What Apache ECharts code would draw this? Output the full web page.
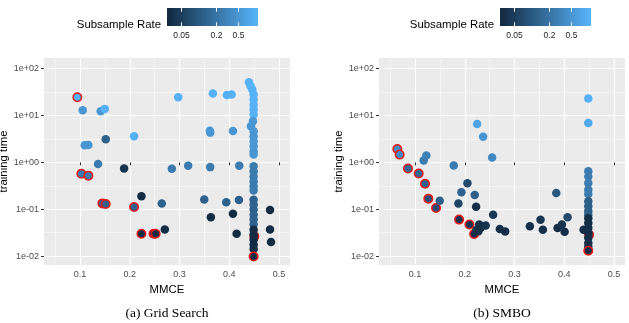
<!DOCTYPE html>
<html><head><meta charset="utf-8">
<script src="https://cdn.jsdelivr.net/npm/echarts@6/dist/echarts.min.js"></script>
<style>html,body{margin:0;padding:0;background:#fff}#c{width:629px;height:323px}</style>
</head><body><div id="c"></div>
<script>
// ---------------- data ----------------
// (a) Grid Search
const gsMMCE = [0.2973,0.3671,0.3953,0.4047,0.1054,0.1416,0.1497,0.1517,0.2087,0.1094,0.1168,0.3610,0.3617,0.4074,
  0.1362,0.1886,0.2846,0.3174,0.3617,0.4201,0.2235,0.2644,0.3497,0.3940,0.4195,0.3631,0.4074,0.4819,0.2705,0.4148,0.4819,0.4839,
  0.0946,0.1027,0.1168,0.1450,0.1517,0.2087,0.2235,0.2477,0.2520,
  0.4505,
  0.4396,0.4430,0.4463,0.449,0.449,0.449,0.449,0.449,
  0.4476,0.4436,0.449,0.449,0.449,0.449,0.449,0.449,
  0.449,0.449,0.449,0.449,0.449,0.449,
  0.449,0.449,0.449,0.449,0.449,0.449,
  0.449,0.449,0.449,0.449,0.449,
  0.449];
const gsTime = [24.4,29.3,27.4,27.9,12.9,12.3,13.8,3.1,3.6,2.3,2.35,4.7,4.3,4.67,
  0.92,0.74,0.73,0.85,0.79,0.85,0.19,0.133,0.162,0.140,0.157,0.067,0.080,0.096,0.037,0.030,0.037,0.020,
  24.4,0.57,0.52,0.133,0.129,0.111,0.030,0.030,0.030,
  0.0263,
  51,42,35.6,27.9,21.8,17.0,13.3,10.4,
  7.5,5.9,4.6,3.6,2.8,2.2,1.72,1.46,
  0.82,0.64,0.50,0.39,0.31,0.25,
  0.16,0.125,0.098,0.076,0.060,0.047,
  0.0365,0.0286,0.0223,0.0175,0.0141,
  0.0098];
const gsRate = [1,1,1,1,0.5,0.5,1,0.125,1,0.5,0.5,0.5,0.5,0.5,
  0.25,0.04,0.25,0.25,0.25,0.25,0.03125,0.125,0.125,0.125,0.125,0.03125,0.03125,0.03125,0.03125,0.03125,0.03125,0.03125,
  1,0.25,0.25,0.125,0.125,0.125,0.03125,0.03125,0.03125,
  0.03125,
  1,1,1,1,1,1,1,1,
  0.5,0.5,0.5,0.5,0.5,0.5,0.5,0.5,
  0.25,0.25,0.25,0.25,0.25,0.25,
  0.125,0.125,0.125,0.125,0.125,0.125,
  0.03125,0.03125,0.03125,0.03125,0.03125,
  0.03125];
const gsPareto = [0,0,0,0,0,0,0,0,0,0,0,0,0,0,
  0,0,0,0,0,0,0,0,0,0,0,0,0,0,0,0,0,0,
  1,1,1,1,1,1,1,1,1,
  1,
  0,0,0,0,0,0,0,0,
  0,0,0,0,0,0,0,0,
  0,0,0,0,0,0,
  0,0,0,0,0,0,
  0,0,0,0,0,
  1];

// (b) SMBO
const smMMCE = [0.0644,0.0691,0.0859,0.1074,0.1201,0.1268,0.1423,0.1886,0.2094,0.2188,0.4500,
  0.4483,0.4483,0.2248,0.2369,0.2550,0.1174,0.1228,0.1779,0.2054,0.1933,0.2201,0.1497,0.1872,0.2228,0.3839,0.2570,
  0.2290,0.2320,0.2420,0.2235,0.2275,0.2705,0.2812,0.3309,0.3523,0.3570,0.3866,0.3953,0.4007,0.4067,0.4389,
  0.4483,0.4483,0.4483,0.4483,0.4483,
  0.4483,0.4483,0.4483,0.4483,
  0.4483,0.4483,0.4483,0.4483,0.4483,0.4483,0.4483,
  0.4483];
const smTime = [1.93,1.46,0.74,0.58,0.35,0.168,0.106,0.060,0.047,0.0295,0.0286,
  22.9,6.9,6.6,3.5,1.26,1.10,1.39,0.86,0.356,0.229,0.200,0.152,0.133,0.113,0.221,0.076,
  0.047,0.040,0.045,0.036,0.034,0.0378,0.0336,0.0431,0.0597,0.0365,0.0396,0.0474,0.0331,0.0670,0.0365,
  0.643,0.50,0.36,0.26,0.21,
  0.148,0.116,0.092,0.076,
  0.064,0.051,0.040,0.0318,0.0245,0.0190,0.0159,
  0.0130];
const smRate = [0.4,0.4,0.15,0.15,0.13,0.08,0.08,0.04,0.04,0.035,0.035,
  1,0.8,0.7,0.5,0.35,0.25,0.3,0.25,0.07,0.13,0.12,0.12,0.06,0.035,0.1,0.045,
  0.035,0.035,0.04,0.035,0.035,0.035,0.035,0.035,0.04,0.035,0.035,0.04,0.035,0.07,0.035,
  0.25,0.25,0.25,0.25,0.25,
  0.12,0.12,0.12,0.12,
  0.035,0.035,0.035,0.035,0.035,0.035,0.035,
  0.035];
const smPareto = [1,1,1,1,1,1,1,1,1,1,1,
  0,0,0,0,0,0,0,0,0,0,0,0,0,0,0,0,
  0,0,0,0,0,0,0,0,0,0,0,0,0,0,0,
  0,0,0,0,0,
  0,0,0,0,
  0,0,0,0,0,0,0,
  1];

// axes / scales
const X_LIMITS = [0.0276, 0.5221];
const X_TICKS = [0.1, 0.2, 0.3, 0.4, 0.5];
const X_MINOR = [0.05, 0.15, 0.25, 0.35, 0.45];
const Y_LOG_LIMITS = [-2.19, 2.225];
const Y_TICKS = [0.01, 0.1, 1, 10, 100];
const Y_TICK_LABELS = ['1e-02', '1e-01', '1e+00', '1e+01', '1e+02'];
const RATE_LIMITS = [1/32, 1];
const LEGEND_BREAKS = [0.05, 0.2, 0.5];
const LEGEND_LABELS = ['0.05', '0.2', '0.5'];
const COLOR_LOW = '#132B43', COLOR_HIGH = '#56B1F7';
const CAPTIONS = ['(a) Grid Search', '(b) SMBO'];
const LEGEND_TITLE = 'Subsample Rate';
const X_NAME = 'MMCE', Y_NAME = 'training time';

// ---------------- chart ----------------
const FONT = '"Liberation Sans", Arial, sans-serif';
const yTickLog = Y_TICKS.map(v => Math.log10(v));
const yMinorLog = yTickLog.slice(1).map((v, i) => (v + yTickLog[i]) / 2);
const lRate = RATE_LIMITS.map(v => Math.log10(v));

function buildData(mx, ty, rt, pf) {
  return mx.map((m, i) => {
    const item = { value: [m, Math.log10(ty[i]), Math.log10(rt[i])] };
    if (pf[i]) item.itemStyle = { borderColor: '#E41A1C', borderWidth: 1.5 };
    return item;
  });
}

const grids = [
  { left: 44, top: 58, width: 246, height: 207 },
  { left: 379, top: 58, width: 246, height: 207 }
].map(g => Object.assign(g, { show: true, backgroundColor: '#EBEBEB', borderWidth: 0, containLabel: false, outerBoundsMode: 'none' }));

const xAxes = [], yAxes = [];
[0, 1].forEach(g => {
  xAxes.push({
    type: 'value', gridIndex: g, min: X_LIMITS[0], max: X_LIMITS[1],
    axisLine: { show: false },
    axisTick: { show: true, length: 3, customValues: X_TICKS, lineStyle: { color: '#333', width: 1 } },
    axisLabel: { show: true, customValues: X_TICKS, color: '#4D4D4D', fontSize: 9, margin: 5, fontFamily: FONT,
      formatter: v => String(v) },
    splitLine: { show: true, lineStyle: { color: '#FFFFFF', width: 1 } },
    name: X_NAME, nameLocation: 'middle', nameGap: 15,
    nameTextStyle: { fontSize: 11.4, color: '#000', fontFamily: FONT }
  });
  xAxes.push({
    type: 'value', gridIndex: g, min: X_LIMITS[0], max: X_LIMITS[1], position: 'bottom',
    axisLine: { show: false },
    axisTick: { show: false, customValues: X_MINOR },
    axisLabel: { show: false },
    splitLine: { show: true, lineStyle: { color: '#FFFFFF', width: 0.5 } }
  });
  yAxes.push({
    type: 'value', gridIndex: g, min: Y_LOG_LIMITS[0], max: Y_LOG_LIMITS[1],
    axisLine: { show: false },
    axisTick: { show: true, length: 3, customValues: yTickLog, lineStyle: { color: '#333', width: 1 } },
    axisLabel: { show: true, customValues: yTickLog, color: '#4D4D4D', fontSize: 9, margin: 5, fontFamily: FONT,
      formatter: v => { const k = yTickLog.findIndex(t => Math.abs(t - v) < 1e-9); return k >= 0 ? Y_TICK_LABELS[k] : ''; } },
    splitLine: { show: true, lineStyle: { color: '#FFFFFF', width: 1 } },
    name: Y_NAME, nameLocation: 'middle', nameGap: 33,
    nameTextStyle: { fontSize: 11.4, color: '#000', fontFamily: FONT }
  });
  yAxes.push({
    type: 'value', gridIndex: g, min: Y_LOG_LIMITS[0], max: Y_LOG_LIMITS[1], position: 'left',
    axisLine: { show: false },
    axisTick: { show: false, customValues: yMinorLog },
    axisLabel: { show: false },
    splitLine: { show: true, lineStyle: { color: '#FFFFFF', width: 0.5 } }
  });
});

const series = [
  { data: buildData(gsMMCE, gsTime, gsRate, gsPareto), xAxisIndex: 0, yAxisIndex: 0 },
  { data: buildData(smMMCE, smTime, smRate, smPareto), xAxisIndex: 2, yAxisIndex: 2 }
].map(s => Object.assign(s, { type: 'scatter', symbol: 'circle', symbolSize: 8.5, z: 3, silent: true,
  itemStyle: { opacity: 1 }, emphasis: { disabled: true } }));

// legends + captions
const graphics = [];
const BAR = { w: 91, h: 18 };
const legendSpots = [{ x: 167, y: 8 }, { x: 500, y: 8 }];
const captionX = [167, 502];
legendSpots.forEach((p, idx) => {
  graphics.push({ type: 'text', x: p.x - 6, y: p.y + 17, silent: true,
    style: { text: LEGEND_TITLE, align: 'right', verticalAlign: 'middle', fill: '#000', fontSize: 11.4, fontFamily: FONT } });
  graphics.push({ type: 'rect', silent: true, shape: { x: p.x, y: p.y, width: BAR.w, height: BAR.h },
    style: { fill: new echarts.graphic.LinearGradient(0, 0, 1, 0, [
      { offset: 0.025, color: COLOR_LOW }, { offset: 0.975, color: COLOR_HIGH }]) } });
  LEGEND_BREAKS.forEach((b, k) => {
    const f = 0.025 + 0.95 * (Math.log10(b) - lRate[0]) / (lRate[1] - lRate[0]);
    const tx = Math.round(p.x + BAR.w * f) + 0.5;
    graphics.push({ type: 'line', silent: true, shape: { x1: tx, y1: p.y, x2: tx, y2: p.y + 3.6 },
      style: { stroke: '#fff', lineWidth: 1 } });
    graphics.push({ type: 'line', silent: true, shape: { x1: tx, y1: p.y + BAR.h - 3.6, x2: tx, y2: p.y + BAR.h },
      style: { stroke: '#fff', lineWidth: 1 } });
    graphics.push({ type: 'text', silent: true, x: tx, y: p.y + 28,
      style: { text: LEGEND_LABELS[k], align: 'center', verticalAlign: 'middle', fill: '#222', fontSize: 8.5, fontFamily: FONT } });
  });
  graphics.push({ type: 'text', silent: true, x: captionX[idx], y: 313,
    style: { text: CAPTIONS[idx], align: 'center', verticalAlign: 'middle', fill: '#000', fontSize: 13.5,
      fontFamily: '"Liberation Serif", "Times New Roman", serif' } });
});

const chart = echarts.init(document.getElementById('c'), null, { renderer: 'canvas' });
chart.setOption({
  animation: false,
  backgroundColor: '#FFFFFF',
  textStyle: { fontFamily: FONT },
  grid: grids,
  xAxis: xAxes,
  yAxis: yAxes,
  visualMap: [{ type: 'continuous', show: false, dimension: 2, seriesIndex: [0, 1],
    min: lRate[0], max: lRate[1], inRange: { color: [COLOR_LOW, COLOR_HIGH] } }],
  series: series,
  graphic: graphics
});
</script>
</body></html>
